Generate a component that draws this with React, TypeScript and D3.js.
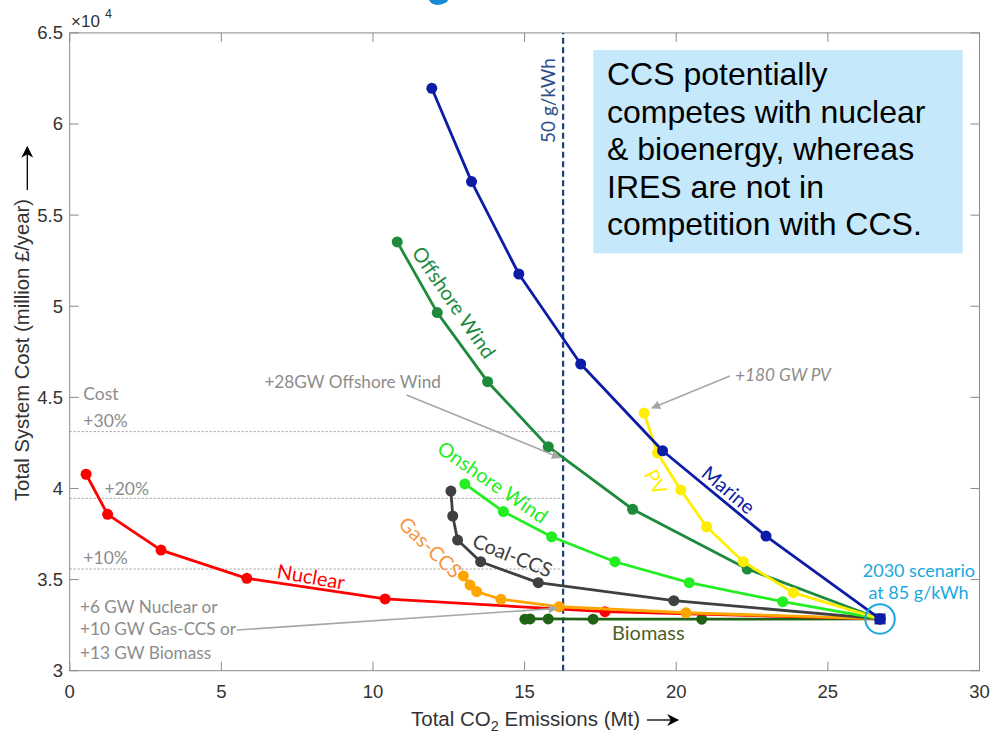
import React from 'react';
import * as d3 from 'd3';

// ---------- data ----------
const xTicks = [0, 5, 10, 15, 20, 25, 30];
const yTicks = [3, 3.5, 4, 4.5, 5, 5.5, 6, 6.5];

const marineX = [11.94, 13.25, 14.81, 16.85, 19.55, 22.96, 26.72];
const marineY = [6.196, 5.684, 5.177, 4.683, 4.207, 3.739, 3.284];

const offshoreX = [10.8, 12.12, 13.78, 15.78, 18.56, 22.34, 26.72];
const offshoreY = [5.353, 4.965, 4.586, 4.229, 3.886, 3.558, 3.284];

const pvX = [18.94, 19.38, 20.15, 21.0, 22.21, 23.86, 26.72];
const pvY = [4.414, 4.195, 3.992, 3.79, 3.598, 3.428, 3.284];

const onshoreX = [13.03, 14.3, 15.89, 17.98, 20.43, 23.51, 26.72];
const onshoreY = [4.025, 3.873, 3.735, 3.598, 3.483, 3.379, 3.284];

const coalX = [12.57, 12.63, 12.79, 13.55, 15.45, 19.92, 26.72];
const coalY = [3.986, 3.849, 3.717, 3.598, 3.483, 3.384, 3.284];

const gasX = [12.98, 13.2, 13.42, 14.22, 16.14, 20.32, 26.72];
const gasY = [3.52, 3.47, 3.434, 3.392, 3.351, 3.318, 3.284];

const nuclearX = [0.54, 1.25, 3.01, 5.84, 10.4, 17.65, 26.72];
const nuclearY = [4.078, 3.858, 3.662, 3.507, 3.394, 3.324, 3.284];

const biomassX = [15.01, 15.18, 15.78, 17.26, 20.84, 26.72];
const biomassY = [3.283, 3.284, 3.284, 3.283, 3.283, 3.284];

const costLevels = [4.312, 3.946, 3.558];
const costLabels = ['+30%', '+20%', '+10%'];
const emissionLimit = 16.27;
const scenarioPoint = [26.72, 3.284];

const boxLines = [
  'CCS potentially',
  'competes with nuclear',
  '& bioenergy, whereas',
  'IRES are not in',
  'competition with CCS.',
];
const gasNoteLines = ['+6 GW Nuclear or', '+10 GW Gas-CCS or', '+13 GW Biomass'];

// ---------- layout ----------
const W = 990;
const H = 735;
const LBL = "Lato, 'Open Sans', sans-serif";
const ARIAL = "'Liberation Sans', Arial, Helvetica, sans-serif";
const AXIS = '#8a8a8a';
const NOTE = '#8c8c8c';

const x = d3.scaleLinear().domain([0, 30]).range([69.7, 979.5]);
const y = d3.scaleLinear().domain([3, 6.5]).range([670.7, 32.9]);

const zip = (a: number[], b: number[]) => a.map((v, i) => [v, b[i]] as [number, number]);

const series = [
  { name: 'Biomass', pts: zip(biomassX, biomassY), color: '#1e6414', label: 'Biomass', lc: '#4f6228', lx: 19.08, ly: 3.212, rot: 0 },
  { name: 'Nuclear', pts: zip(nuclearX, nuclearY), color: '#ff0000', label: 'Nuclear', lc: '#ff0000', lx: 7.96, ly: 3.52, rot: 10 },
  { name: 'Gas-CCS', pts: zip(gasX, gasY), color: '#ffa500', label: 'Gas-CCS', lc: '#f79646', lx: 11.91, ly: 3.68, rot: 44 },
  { name: 'Coal-CCS', pts: zip(coalX, coalY), color: '#404040', label: 'Coal-CCS', lc: '#404040', lx: 14.61, ly: 3.636, rot: 22 },
  { name: 'Onshore Wind', pts: zip(onshoreX, onshoreY), color: '#22ee22', label: 'Onshore Wind', lc: '#22ee22', lx: 13.96, ly: 4.038, rot: 34.5 },
  { name: 'Offshore Wind', pts: zip(offshoreX, offshoreY), color: '#1e8a3c', label: 'Offshore Wind', lc: '#1e8a3c', lx: 12.69, ly: 5.024, rot: 55.5 },
  { name: 'PV', pts: zip(pvX, pvY), color: '#ffee00', label: 'PV', lc: '#ffee00', lx: 19.35, ly: 4.037, rot: 62 },
  { name: 'Marine', pts: zip(marineX, marineY), color: '#0c1ca6', label: 'Marine', lc: '#0c1ca6', lx: 21.74, ly: 3.996, rot: 40 },
];

const line = d3
  .line<[number, number]>()
  .x((d) => x(d[0]))
  .y((d) => y(d[1]));

export default function App() {
  const [x0, x1] = x.range();
  const [y0, y1] = y.range();
  return (
    <svg
      width={W}
      height={H}
      viewBox={`0 0 ${W} ${H}`}
      style={{ position: 'absolute', left: 0, top: 0, background: '#fff' }}
    >
      <defs>
        <marker id="grayArrow" viewBox="0 0 10 10" refX="9" refY="5" markerWidth="9" markerHeight="9" markerUnits="userSpaceOnUse" orient="auto">
          <path d="M0,0 L10,5 L0,10 z" fill="#a6a6a6" />
        </marker>
        <marker id="blackArrow" viewBox="0 0 10 10" refX="9" refY="5" markerWidth="12" markerHeight="12" markerUnits="userSpaceOnUse" orient="auto">
          <path d="M0,0 L10,5 L0,10 L3,5 z" fill="#000" />
        </marker>
      </defs>

      {/* cut-off slide title fragment */}
      <path d="M429,0 C431,5 438,7 447,2 L448,0 Z" fill="#1a8ad4" />

      {/* axes box */}
      <rect x={x0} y={y1} width={x1 - x0} height={y0 - y1} fill="none" stroke={AXIS} strokeWidth={1} />
      {xTicks.map((t) => (
        <g key={'xt' + t}>
          <line x1={x(t)} x2={x(t)} y1={y0} y2={y0 - 9} stroke={AXIS} />
          <line x1={x(t)} x2={x(t)} y1={y1} y2={y1 + 9} stroke={AXIS} />
          <text x={x(t)} y={698} textAnchor="middle" fontFamily={ARIAL} fontSize={18.5} fill="#333">
            {t}
          </text>
        </g>
      ))}
      {yTicks.map((t) => (
        <g key={'yt' + t}>
          <line x1={x0} x2={x0 + 9} y1={y(t)} y2={y(t)} stroke={AXIS} />
          <line x1={x1} x2={x1 - 9} y1={y(t)} y2={y(t)} stroke={AXIS} />
          <text x={63} y={y(t)} dy="0.35em" textAnchor="end" fontFamily={ARIAL} fontSize={18.5} fill="#333">
            {d3.format('~g')(t)}
          </text>
        </g>
      ))}
      <text x={71} y={27} fontFamily={ARIAL} fontSize={17} fill="#333">
        ×10
      </text>
      <text x={105} y={18} fontFamily={ARIAL} fontSize={12.5} fill="#333">
        4
      </text>

      {/* axis labels */}
      <text x={411} y={726} fontFamily={ARIAL} fontSize={20.5} fill="#333">
        <tspan>Total CO</tspan>
        <tspan fontSize={14.5} dy={5}>2</tspan>
        <tspan dy={-5}> Emissions (Mt)</tspan>
      </text>
      <line x1={647} x2={678} y1={720} y2={720} stroke="#000" strokeWidth={1.3} markerEnd="url(#blackArrow)" />
      <text transform="translate(29,350) rotate(-90)" textAnchor="middle" fontFamily={ARIAL} fontSize={20.3} fill="#333">
        Total System Cost (million £/year)
      </text>
      <line x1={27.3} x2={27.3} y1={190} y2={147} stroke="#000" strokeWidth={1.3} markerEnd="url(#blackArrow)" />

      {/* cost reference lines */}
      {costLevels.map((c, i) => (
        <line key={'c' + i} x1={x(0)} x2={x(emissionLimit)} y1={y(c)} y2={y(c)} stroke="#9a9a9a" strokeWidth={1} strokeDasharray="2,2" />
      ))}
      <text x={x(0.45)} y={y(4.519)} dy="0.35em" fontFamily={LBL} fontSize={17.5} fill={NOTE}>Cost</text>
      <text x={x(0.45)} y={y(costLevels[0]) - 11} dy="0.35em" fontFamily={LBL} fontSize={17.5} fill={NOTE}>{costLabels[0]}</text>
      <text x={x(1.15)} y={y(costLevels[1]) - 9} dy="0.35em" fontFamily={LBL} fontSize={17.5} fill={NOTE}>{costLabels[1]}</text>
      <text x={x(0.45)} y={y(costLevels[2]) - 11} dy="0.35em" fontFamily={LBL} fontSize={17.5} fill={NOTE}>{costLabels[2]}</text>

      {/* emission limit */}
      <line x1={x(emissionLimit)} x2={x(emissionLimit)} y1={y0} y2={y1} stroke="#1f3f7a" strokeWidth={2.2} strokeDasharray="6,3.5" />
      <text
        transform={`translate(${x(15.77)},${y(6.129)}) rotate(-90)`}
        textAnchor="middle"
        dominantBaseline="central"
        fontFamily={LBL}
        fontSize={19}
        fill="#2f4f8a"
      >
        50 g/kWh
      </text>

      {/* series */}
      {series.map((s) => (
        <g key={s.name}>
          <path d={line(s.pts) || ''} fill="none" stroke={s.color} strokeWidth={2.8} strokeLinejoin="round" />
          {s.pts.map((p, i) => (
            <circle key={i} cx={x(p[0])} cy={y(p[1])} r={5.5} fill={s.color} />
          ))}
        </g>
      ))}
      <rect x={x(scenarioPoint[0]) - 5.5} y={y(scenarioPoint[1]) - 5.5} width={11} height={11} fill="#0c1ca6" />

      {/* series labels */}
      {series.map((s) => (
        <text
          key={'l' + s.name}
          transform={`translate(${x(s.lx)},${y(s.ly)}) rotate(${s.rot})`}
          textAnchor="middle"
          dominantBaseline="central"
          fontFamily={LBL}
          fontSize={20}
          fill={s.lc}
        >
          {s.label}
        </text>
      ))}

      {/* scenario */}
      <circle cx={x(scenarioPoint[0])} cy={y(scenarioPoint[1])} r={14.7} fill="none" stroke="#1aa7e0" strokeWidth={2} />
      <text x={x(28.0)} y={y(3.549)} dy="0.35em" textAnchor="middle" fontFamily={LBL} fontSize={18} fill="#1aa7e0">2030 scenario</text>
      <text x={x(27.99)} y={y(3.426)} dy="0.35em" textAnchor="middle" fontFamily={LBL} fontSize={18} fill="#1aa7e0">at 85 g/kWh</text>

      {/* annotations */}
      <text x={x(12.24)} y={y(4.586)} dy="0.35em" textAnchor="end" fontFamily={LBL} fontSize={17.2} fill={NOTE}>+28GW Offshore Wind</text>
      <line x1={x(11.11)} y1={y(4.513)} x2={x(16.17)} y2={y(4.169)} stroke="#a6a6a6" strokeWidth={1.6} markerEnd="url(#grayArrow)" />

      <text x={x(21.94)} y={y(4.623)} dy="0.35em" fontFamily={LBL} fontStyle="italic" fontSize={17.2} fill={NOTE}>+180 GW PV</text>
      <line x1={x(21.77)} y1={y(4.617)} x2={x(19.2)} y2={y(4.442)} stroke="#a6a6a6" strokeWidth={1.6} markerEnd="url(#grayArrow)" />

      {gasNoteLines.map((t, i) => (
        <text key={'g' + i} x={x(0.34)} y={y([3.351, 3.227, 3.095][i])} dy="0.35em" fontFamily={LBL} fontSize={17.2} fill={NOTE}>
          {t}
        </text>
      ))}
      <line x1={x(5.51)} y1={y(3.223)} x2={x(16.06)} y2={y(3.342)} stroke="#a6a6a6" strokeWidth={1.6} markerEnd="url(#grayArrow)" />

      {/* text box */}
      <rect x={593.3} y={50} width={369.4} height={203.3} fill="#c5e9fb" />
      {boxLines.map((t, i) => (
        <text key={'b' + i} x={607} y={85 + 37.5 * i} fontFamily={ARIAL} fontSize={32} fill="#000">
          {t}
        </text>
      ))}
    </svg>
  );
}
